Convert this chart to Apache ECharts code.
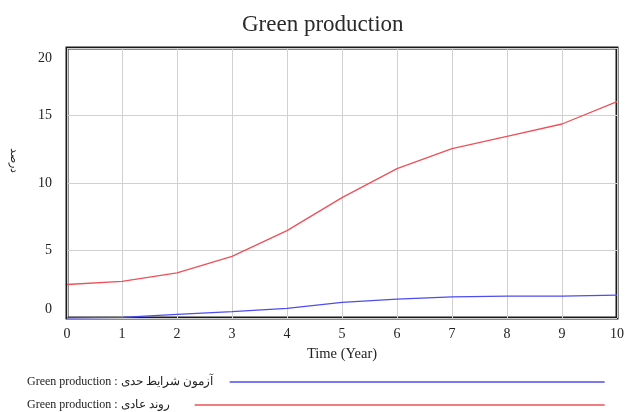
<!DOCTYPE html>
<html>
<head>
<meta charset="utf-8">
<style>
  html, body { margin: 0; padding: 0; background: #fff; }
  #main { width: 627px; height: 412px; }
</style>
<script src="https://cdn.jsdelivr.net/npm/echarts@6/dist/echarts.min.js"></script>
</head>
<body>
<div id="main"></div>
<script>
const years = [0, 1, 2, 3, 4, 5, 6, 7, 8, 9, 10];
const limitTest = [0, 0.05, 0.27, 0.47, 0.71, 1.15, 1.4, 1.57, 1.62, 1.62, 1.69];
const normalTrend = [2.48, 2.72, 3.34, 4.56, 6.47, 8.92, 11.06, 12.55, 13.46, 14.37, 16.03];
const yTicks = [0, 5, 10, 15, 20];

const nameLimit = "Green production : آزمون شرایط حدی";
const nameNormal = "Green production : روند عادی";

const serif = "Liberation Serif, DejaVu Serif, serif";

const chart = echarts.init(document.getElementById("main"));
const option = {
  animation: false,
  title: {
    text: "Green production",
    left: 237,
    top: 8,
    textStyle: {
      fontFamily: serif,
      fontSize: 23,
      fontWeight: "normal",
      color: "#2a2a2a"
    }
  },
  grid: {
    left: 65,
    right: 10,
    top: 48,
    bottom: 94,
    show: true,
    borderColor: "#1a1a1a",
    borderWidth: 3
  },
  legend: [
    {
      data: [nameLimit],
      left: 22,
      top: 371,
      align: "right",
      icon: "rect",
      itemWidth: 375,
      itemHeight: 1.5,
      textStyle: { fontFamily: serif, fontSize: 12, color: "#222", padding: [0, 12, 0, 0] }
    },
    {
      data: [nameNormal],
      left: 22,
      top: 394,
      align: "right",
      icon: "rect",
      itemWidth: 410,
      itemHeight: 1.5,
      textStyle: { fontFamily: serif, fontSize: 12, color: "#222", padding: [0, 20, 0, 0] }
    }
  ],
  xAxis: {
    type: "value",
    min: 0,
    max: 10,
    interval: 1,
    name: "Time (Year)",
    nameLocation: "middle",
    nameGap: 29,
    nameTextStyle: { fontFamily: serif, fontSize: 14.5, color: "#222" },
    axisLine: { show: false },
    axisTick: { show: false },
    axisLabel: { fontFamily: serif, fontSize: 14, color: "#222", margin: 9 },
    splitLine: { lineStyle: { color: "#d0d0d0" } }
  },
  yAxis: {
    type: "value",
    min: yTicks[0],
    max: yTicks[yTicks.length - 1],
    interval: 5,
    name: "درصد",
    nameLocation: "middle",
    nameRotate: -90,
    nameGap: 48,
    nameTextStyle: { fontFamily: serif, fontSize: 11, color: "#222", padding: [0, 46, 0, 0] },
    axisLine: { show: false },
    axisTick: { show: false },
    axisLabel: {
      fontFamily: serif,
      fontSize: 14,
      color: "#222",
      margin: 15,
      formatter: v => v === yTicks[yTicks.length - 1] ? "{top|" + v + "}" : v === yTicks[0] ? "{bot|" + v + "}" : String(v),
      rich: {
        top: { fontFamily: serif, fontSize: 14, color: "#222", padding: [20, 0, 0, 0] },
        bot: { fontFamily: serif, fontSize: 14, color: "#222", padding: [0, 0, 18, 0] }
      }
    },
    splitLine: { lineStyle: { color: "#d0d0d0" } }
  },
  series: [
    {
      name: nameLimit,
      type: "line",
      data: years.map((x, i) => [x, limitTest[i]]),
      showSymbol: false,
      lineStyle: { color: "#4d4df2", width: 1.3 },
      itemStyle: { color: "#4d4df2" }
    },
    {
      name: nameNormal,
      type: "line",
      data: years.map((x, i) => [x, normalTrend[i]]),
      showSymbol: false,
      lineStyle: { color: "#ef5058", width: 1.3 },
      itemStyle: { color: "#ef5058" }
    }
  ]
};
chart.setOption(option);
</script>
</body>
</html>
